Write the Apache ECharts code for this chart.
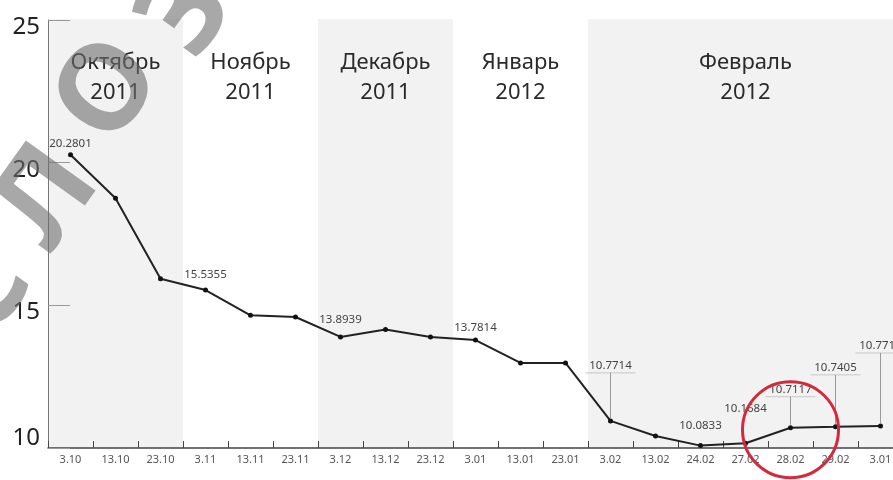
<!DOCTYPE html>
<html><head><meta charset="utf-8">
<script src="https://cdn.jsdelivr.net/npm/echarts@6/dist/echarts.min.js"></script>
<style>html,body{margin:0;padding:0;background:#fff;overflow:hidden}#c{width:903px;height:480px}</style>
</head><body><div id="c"></div>
<script>
// ---- data ----
const categories = ['3.10','13.10','23.10','3.11','13.11','23.11','3.12','13.12','23.12','3.01','13.01','23.01','3.02','13.02','24.02','27.02','28.02','29.02','3.01'];
const rates = [20.2801,18.75,15.93,15.5355,14.65,14.59,13.8939,14.15,13.89,13.7814,12.98,12.98,10.95,10.42,10.0833,10.1684,10.7117,10.7405,10.7714];
const pointLabels = ['20.2801','','','15.5355','','','13.8939','','','13.7814','','','10.7714','','10.0833','10.1684','10.7117','10.7405','10.7714'];
const months = ['Октябрь\n2011','Ноябрь\n2011','Декабрь\n2011','Январь\n2012','Февраль\n2012'];
const monthStart = [0,3,6,9,12];
const monthEnd = [2,5,8,11,18];
const yTicks = [10,15,20,25];
const highlightIndex = 16;
const watermark = ['С','Л','О','З'];

// ---- styles (pixel offsets of callouts, watermark placement) ----
const labelLift = [11,0,0,15,0,0,17,0,0,12,0,0,55,0,20,34,38,59,80];
const withLeader = [12,16,17,18];
const wmPos = [[-15,292],[48,198],[110,92],[188,14]];
const FONT = '"Noto Sans", "Open Sans", sans-serif';

const chart = echarts.init(document.getElementById('c'), null, {renderer:'canvas'});

const option = {
  animation: false,
  backgroundColor: '#fff',
  grid: {left: 48, top: 20, bottom: 32, right: 0, containLabel: false},
  xAxis: {
    type: 'category', data: categories, boundaryGap: true,
    axisLine: {lineStyle: {color: '#444', width: 1.5}},
    axisTick: {show: true, inside: true, length: 7, lineStyle: {color: '#444', width: 1}},
    axisLabel: {interval: 0, fontSize: 11, color: '#555', margin: 6, fontFamily: FONT},
    splitLine: {show: false}
  },
  yAxis: {
    type: 'value', min: 10, max: 25,
    axisLine: {show: true, lineStyle: {color: '#777', width: 1}},
    axisTick: {show: true, inside: true, length: 22, customValues: yTicks, lineStyle: {color: '#999'}},
    axisLabel: {customValues: yTicks, fontSize: 24, color: '#222', margin: 8, fontFamily: FONT,
      formatter: function (v) { return v === 10 ? '{lo|' + v + '}' : '{hi|' + v + '}'; },
      rich: {
        hi: {fontSize: 24, color: '#222', fontFamily: FONT, padding: [14, 0, 0, 0]},
        lo: {fontSize: 24, color: '#222', fontFamily: FONT, padding: [0, 0, 20, 0]}
      }},
    splitLine: {show: false}
  },
  graphic: watermark.map((ch, k) => ({
    type: 'text', z: 100, x: wmPos[k][0], y: wmPos[k][1], rotation: 0.95,
    style: {text: ch, fontSize: 120, fontWeight: 'bold', fontFamily: FONT,
      fill: 'rgba(110,110,110,0.6)', align: 'center', verticalAlign: 'middle'}
  })),
  series: [
    {
      type: 'custom', z: 0, silent: true,
      data: monthStart.map((s, k) => [s, monthEnd[k], k]),
      encode: {x: [0, 1]},
      renderItem: function (params, api) {
        const k = api.value(2);
        const bw = api.size([1, 0])[0];
        const top = api.coord([api.value(0), 25])[1] - 1;
        const bottom = api.coord([api.value(0), 10])[1];
        const x0 = api.coord([api.value(0), 10])[0] - bw / 2;
        const x1 = api.coord([api.value(1), 10])[0] + bw / 2;
        const children = [];
        if (k % 2 === 0) {
          children.push({type: 'rect', shape: {x: x0, y: top, width: x1 - x0, height: bottom - top},
            style: {fill: '#f2f2f2'}});
        }
        children.push({type: 'text', x: (x0 + x1) / 2, y: top + 59,
          style: {text: months[k], fontSize: 22, lineHeight: 30, fill: '#2a2a2a', fontFamily: FONT,
            align: 'center', verticalAlign: 'middle'}});
        return {type: 'group', children: children};
      }
    },
    {
      type: 'line', z: 2, data: rates,
      symbol: 'circle', symbolSize: 5, showSymbol: true,
      itemStyle: {color: '#111'},
      lineStyle: {color: '#222', width: 2}
    },
    {
      type: 'custom', z: 5, silent: true,
      data: rates.map((v, i) => [i, v]).filter(d => pointLabels[d[0]] !== ''),
      renderItem: function (params, api) {
        const i = api.value(0);
        const p = api.coord([i, api.value(1)]);
        const ly = p[1] - labelLift[i];
        const children = [{type: 'text', x: p[0], y: ly,
          style: {text: pointLabels[i], fontSize: 11.5, fill: '#444', fontFamily: FONT,
            align: 'center', verticalAlign: 'middle'}}];
        if (withLeader.indexOf(i) >= 0) {
          children.push({type: 'line', shape: {x1: p[0] - 25, y1: ly + 7, x2: p[0] + 25, y2: ly + 7},
            style: {stroke: '#c8c8c8', lineWidth: 1}});
          children.push({type: 'line', shape: {x1: p[0], y1: ly + 7, x2: p[0], y2: p[1] - 3},
            style: {stroke: '#999', lineWidth: 1}});
        }
        if (i === highlightIndex) {
          children.push({type: 'circle', shape: {cx: p[0], cy: p[1] + 2, r: 48},
            style: {fill: 'none', stroke: '#d42a3e', lineWidth: 3}, z2: 10});
        }
        return {type: 'group', children: children};
      }
    }
  ]
};
chart.setOption(option);
</script>
</body></html>
